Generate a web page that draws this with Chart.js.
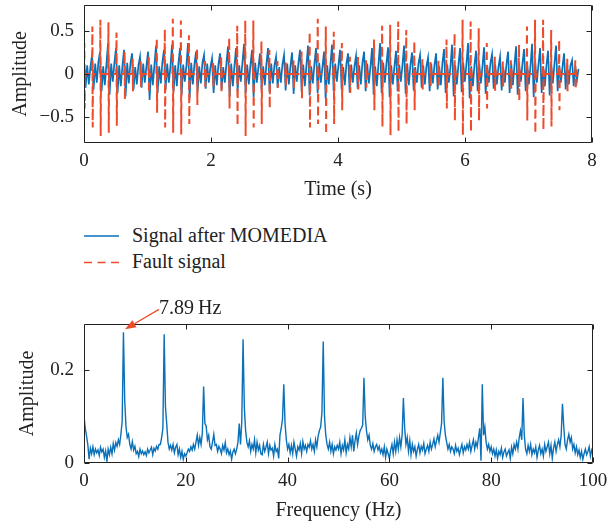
<!DOCTYPE html>
<html>
<head>
<meta charset="utf-8">
<script src="https://cdn.jsdelivr.net/npm/chart.js@4.4.1/dist/chart.umd.min.js"></script>
<style>
  body { margin: 0; background: #fff; }
  #page { position: relative; width: 608px; height: 529px; font-family: "Liberation Serif", "DejaVu Serif", serif; color: #222; }
  .box { position: absolute; left: 0; }
  .box canvas { display: block; }
  .key { position: absolute; left: 132px; font-size: 20px; line-height: 20px; white-space: nowrap; }
  .keyline { position: absolute; left: 83px; }
</style>
</head>
<body>
<div id="page">
  <div class="box" style="top:0"><canvas id="timeChart" width="608" height="205"></canvas></div>
  <svg class="keyline" style="top:230px" width="40" height="40">
    <line x1="1" y1="6" x2="36" y2="6" stroke="#0a70b8" stroke-width="1.4"/>
    <line x1="1" y1="32.5" x2="36" y2="32.5" stroke="#ee4b2b" stroke-width="1.4" stroke-dasharray="8 5.5"/>
  </svg>
  <div class="key" style="top:225px">Signal after MOMEDIA</div>
  <div class="key" style="top:251px">Fault signal</div>
  <div class="box" style="top:290px"><canvas id="specChart" width="608" height="239"></canvas></div>
</div>
<script>
// ticks
const timeXTicks = [0, 2, 4, 6, 8];
const timeYTicks = [-0.5, 0, 0.5];
const freqXTicks = [0, 20, 40, 60, 80, 100];
const freqYTicks = [0, 0.2];

// signal after MOMEDIA, one sample every blueStep seconds
const blueStep = 0.0252;
const blueSignal = [
  0.14,-0.16,0.10,-0.12,0.08,  0.22,-0.18,0.12,-0.10,0.14,  0.26,-0.20,0.09,-0.13,0.11,
  0.36,-0.24,0.12,-0.09,0.13,  0.30,-0.22,0.10,-0.14,0.09,  0.28,-0.26,0.13,-0.11,0.12,
  0.24,-0.18,0.08,-0.12,0.10,  0.20,-0.16,0.12,-0.10,0.09,  0.26,-0.30,0.11,-0.13,0.10,
  0.33,-0.22,0.09,-0.11,0.14,  0.28,-0.18,0.12,-0.10,0.08,  0.34,-0.20,0.10,-0.14,0.12,
  0.30,-0.24,0.11,-0.09,0.10,  0.36,-0.28,0.13,-0.12,0.11,  0.26,-0.20,0.09,-0.11,0.13,
  0.22,-0.17,0.12,-0.10,0.08,  0.18,-0.22,0.10,-0.13,0.11,  0.24,-0.18,0.08,-0.10,0.12,
  0.32,-0.26,0.12,-0.14,0.09,  0.30,-0.20,0.10,-0.09,0.13,  0.35,-0.22,0.11,-0.12,0.10,
  0.28,-0.27,0.13,-0.10,0.08,  0.24,-0.18,0.09,-0.13,0.12,  0.30,-0.21,0.12,-0.11,0.10,
  0.20,-0.16,0.08,-0.10,0.11,  0.22,-0.19,0.12,-0.12,0.09,  0.25,-0.23,0.10,-0.09,0.13,
  0.28,-0.20,0.11,-0.14,0.10,  0.33,-0.25,0.09,-0.11,0.12,  0.30,-0.22,0.13,-0.10,0.08,
  0.26,-0.29,0.10,-0.12,0.11,  0.34,-0.20,0.12,-0.09,0.10,  0.28,-0.18,0.08,-0.13,0.12,
  0.24,-0.21,0.11,-0.10,0.09,  0.21,-0.17,0.10,-0.12,0.13,  0.26,-0.20,0.12,-0.11,0.08,
  0.30,-0.24,0.09,-0.14,0.11,  0.36,-0.22,0.13,-0.10,0.12,  0.31,-0.27,0.10,-0.12,0.09,
  0.27,-0.20,0.11,-0.09,0.10,  0.33,-0.23,0.12,-0.13,0.11,  0.25,-0.19,0.08,-0.10,0.12,
  0.22,-0.16,0.10,-0.12,0.09,  0.19,-0.20,0.12,-0.11,0.10,  0.24,-0.18,0.09,-0.13,0.13,
  0.29,-0.22,0.11,-0.10,0.08,  0.34,-0.26,0.10,-0.12,0.11,  0.30,-0.21,0.13,-0.09,0.12,
  0.36,-0.28,0.09,-0.14,0.10,  0.27,-0.20,0.12,-0.11,0.09,  0.31,-0.23,0.10,-0.10,0.13,
  0.23,-0.17,0.11,-0.12,0.08,  0.20,-0.19,0.08,-0.10,0.11,  0.26,-0.22,0.12,-0.13,0.10,
  0.32,-0.24,0.10,-0.09,0.12,  0.29,-0.20,0.11,-0.12,0.09,  0.35,-0.27,0.13,-0.10,0.11,
  0.30,-0.22,0.09,-0.14,0.10,  0.27,-0.25,0.12,-0.11,0.12,  0.33,-0.20,0.10,-0.10,0.08,
  0.24,-0.18,0.11,-0.12,0.10,  0.16,-0.14,0.09,-0.08,0.06
];

// fault signal: impulse times (s) with their highest and lowest swing
const faultTimes = [
  0.005, 0.132, 0.258, 0.385, 0.512, 0.639, 0.766, 0.892, 1.019, 1.146,
  1.273, 1.399, 1.526, 1.653, 1.780, 1.906, 2.033, 2.160, 2.287, 2.413,
  2.540, 2.667, 2.794, 2.920, 3.047, 3.174, 3.301, 3.427, 3.554, 3.681,
  3.808, 3.934, 4.061, 4.188, 4.315, 4.441, 4.568, 4.695, 4.822, 4.948,
  5.075, 5.202, 5.329, 5.455, 5.582, 5.709, 5.836, 5.962, 6.089, 6.216,
  6.343, 6.469, 6.596, 6.723, 6.850, 6.976, 7.103, 7.230, 7.357, 7.483,
  7.610, 7.737
];
const faultHigh = [
  0.36, 0.55, 0.63, 0.60, 0.48, 0.26, 0.18, 0.15, 0.20, 0.42,
  0.52, 0.64, 0.62, 0.45, 0.30, 0.15, 0.15, 0.20, 0.42, 0.56,
  0.62, 0.62, 0.38, 0.28, 0.15, 0.14, 0.16, 0.26, 0.49, 0.64,
  0.55, 0.49, 0.36, 0.20, 0.20, 0.16, 0.40, 0.56, 0.57, 0.61,
  0.51, 0.38, 0.18, 0.15, 0.16, 0.40, 0.47, 0.63, 0.61, 0.53,
  0.36, 0.20, 0.15, 0.16, 0.34, 0.55, 0.63, 0.63, 0.51, 0.40,
  0.18, 0.16
];
const faultLow = [
  -0.40, -0.62, -0.72, -0.68, -0.60, -0.30, -0.20, -0.15, -0.22, -0.45,
  -0.62, -0.68, -0.70, -0.58, -0.36, -0.15, -0.16, -0.22, -0.40, -0.60,
  -0.72, -0.62, -0.58, -0.40, -0.16, -0.15, -0.18, -0.28, -0.62, -0.58,
  -0.70, -0.58, -0.42, -0.22, -0.18, -0.16, -0.42, -0.61, -0.71, -0.67,
  -0.58, -0.42, -0.18, -0.15, -0.16, -0.40, -0.54, -0.71, -0.67, -0.54,
  -0.40, -0.20, -0.15, -0.17, -0.31, -0.54, -0.69, -0.65, -0.61, -0.42,
  -0.20, -0.18
];
const faultTail = [0.05, -0.04];

// envelope spectrum, one bin every specStep Hz from 0 to 100
const specStep = 0.25;
const spectrum = [
  0.100,0.075,0.058,0.040,0.008,0.032,0.020,0.035,0.018,0.030,0.022,0.028,0.016,0.034,0.024,0.030,0.012,0.026,0.004,0.030,
  0.018,0.034,0.020,0.042,0.028,0.044,0.036,0.050,0.040,0.062,0.090,0.282,0.135,0.078,0.055,0.062,0.040,0.030,0.046,0.028,
  0.036,0.020,0.025,0.014,0.030,0.020,0.026,0.018,0.024,0.016,0.030,0.022,0.028,0.034,0.018,0.032,0.026,0.036,0.030,0.040,
  0.040,0.055,0.075,0.278,0.122,0.085,0.045,0.030,0.038,0.028,0.040,0.022,0.034,0.040,0.018,0.030,0.012,0.025,0.008,0.020,
  0.015,0.022,0.030,0.025,0.035,0.028,0.040,0.030,0.045,0.060,0.038,0.055,0.040,0.065,0.165,0.085,0.080,0.050,0.060,0.035,
  0.030,0.045,0.062,0.038,0.040,0.025,0.036,0.030,0.020,0.038,0.028,0.044,0.022,0.030,0.018,0.026,0.008,0.024,0.030,0.020,
  0.030,0.045,0.085,0.040,0.090,0.267,0.120,0.070,0.045,0.035,0.048,0.025,0.040,0.030,0.050,0.022,0.045,0.028,0.038,0.020,
  0.018,0.040,0.025,0.034,0.045,0.020,0.038,0.028,0.032,0.015,0.040,0.025,0.030,0.010,0.060,0.075,0.095,0.170,0.085,0.050,
  0.030,0.040,0.022,0.038,0.020,0.045,0.030,0.015,0.035,0.028,0.042,0.020,0.046,0.030,0.038,0.025,0.040,0.034,0.048,0.030,
  0.040,0.025,0.050,0.035,0.058,0.070,0.078,0.110,0.262,0.100,0.060,0.040,0.030,0.045,0.025,0.040,0.020,0.035,0.028,0.038,
  0.030,0.045,0.020,0.038,0.028,0.050,0.022,0.040,0.030,0.055,0.035,0.060,0.025,0.048,0.065,0.040,0.058,0.070,0.075,0.082,
  0.184,0.100,0.070,0.050,0.060,0.038,0.030,0.042,0.025,0.035,0.040,0.028,0.036,0.022,0.030,0.018,0.035,0.012,0.030,0.020,
  0.010,0.028,0.040,0.020,0.045,0.025,0.050,0.030,0.055,0.035,0.060,0.140,0.075,0.040,0.055,0.025,0.048,0.018,0.040,0.025,
  0.035,0.015,0.030,0.040,0.022,0.036,0.028,0.042,0.020,0.030,0.038,0.025,0.045,0.030,0.040,0.052,0.035,0.048,0.060,0.045,
  0.065,0.085,0.184,0.090,0.060,0.045,0.030,0.040,0.025,0.035,0.030,0.020,0.038,0.025,0.032,0.018,0.030,0.040,0.022,0.035,
  0.028,0.040,0.030,0.045,0.025,0.038,0.050,0.030,0.045,0.035,0.055,0.075,0.005,0.170,0.060,0.078,0.045,0.030,0.040,0.025,
  0.035,0.020,0.030,0.015,0.028,0.010,0.025,0.018,0.032,0.012,0.024,0.030,0.015,0.022,0.028,0.010,0.034,0.020,0.040,0.030,
  0.045,0.030,0.055,0.070,0.050,0.140,0.060,0.030,0.020,0.038,0.025,0.040,0.018,0.030,0.022,0.035,0.012,0.028,0.038,0.020,
  0.030,0.015,0.040,0.025,0.035,0.045,0.020,0.038,0.010,0.032,0.045,0.025,0.040,0.050,0.035,0.060,0.128,0.080,0.040,0.030,
  0.050,0.062,0.045,0.055,0.030,0.040,0.022,0.035,0.018,0.028,0.012,0.025,0.008,0.020,0.030,0.018,0.025,0.035,0.015,0.028,
  0.020
];
const peakLabel = '7.89\u2009Hz';

const BLUE = '#0a70b8';
const RED = '#ee4b2b';
const INK = '#222';
Chart.defaults.font.family = '"Liberation Serif", "DejaVu Serif", serif';

const bluePoints = blueSignal.map((v, i) => ({ x: i * blueStep, y: v }));
const faultPoints = [];
faultTimes.forEach((t, k) => {
    faultPoints.push(
        { x: t - 0.006, y: 0 },
        { x: t, y: faultHigh[k] },
        { x: t + 0.005, y: faultLow[k] },
        { x: t + 0.010, y: faultTail[0] },
        { x: t + 0.015, y: faultTail[1] },
        { x: t + 0.022, y: 0 }
    );
});
const specPoints = spectrum.map((v, i) => ({ x: i * specStep, y: v }));

function fmt(v) {
    return v < 0 ? '\u2212' + Math.abs(v) : String(v);
}

function axisX(min, max, ticks, title, titlePad, height) {
    return {
        type: 'linear', min, max,
        grid: { display: false, drawTicks: false },
        border: { display: false },
        ticks: { padding: 7, color: INK, font: { size: 19 }, maxRotation: 0, autoSkip: false, callback: fmt },
        title: { display: true, text: title, color: INK, font: { size: 20 }, padding: { top: 0, bottom: titlePad } },
        afterBuildTicks: s => { s.ticks = ticks.map(v => ({ value: v })); },
        afterFit: s => { s.height = height; s.paddingLeft = 0; s.paddingRight = 0; }
    };
}

function axisY(min, max, ticks, title, titlePad) {
    return {
        type: 'linear', min, max,
        grid: { display: false, drawTicks: false },
        border: { display: false },
        ticks: { padding: 10, color: INK, font: { size: 19 }, callback: fmt },
        title: { display: true, text: title, color: INK, font: { size: 20 }, padding: { top: titlePad, bottom: 0 } },
        afterBuildTicks: s => { s.ticks = ticks.map(v => ({ value: v })); },
        afterFit: s => { s.width = 84; s.paddingTop = 0; s.paddingBottom = 0; }
    };
}

// box around the plot with inward ticks on all four sides
const frameTicks = {
    id: 'frameTicks',
    afterDatasetsDraw(chart) {
        const { ctx, chartArea: a, scales: { x, y } } = chart;
        const L = Math.round(a.left) + 0.5, R = Math.round(a.right) - 0.5;
        const T = Math.round(a.top) + 0.5, B = Math.round(a.bottom) - 0.5;
        ctx.save();
        ctx.strokeStyle = INK;
        ctx.lineWidth = 1;
        ctx.beginPath();
        ctx.rect(L, T, R - L, B - T);
        x.ticks.forEach(t => {
            const px = Math.round(x.getPixelForValue(t.value)) + 0.5;
            ctx.moveTo(px, B); ctx.lineTo(px, B - 5);
            ctx.moveTo(px, T); ctx.lineTo(px, T + 5);
        });
        y.ticks.forEach(t => {
            const py = Math.round(y.getPixelForValue(t.value)) + 0.5;
            ctx.moveTo(L, py); ctx.lineTo(L + 5, py);
            ctx.moveTo(R, py); ctx.lineTo(R - 5, py);
        });
        ctx.stroke();
        ctx.restore();
    }
};

// red arrow and label pointing at the highest spectral line
const peakNote = {
    id: 'peakNote',
    afterDraw(chart) {
        const { ctx, scales: { x, y } } = chart;
        const k = spectrum.indexOf(Math.max(...spectrum));
        const tipX = x.getPixelForValue(k * specStep) + 1.5;
        const tipY = y.getPixelForValue(spectrum[k]) - 3;
        const tailX = tipX + 34, tailY = tipY - 20;
        const ang = Math.atan2(tipY - tailY, tipX - tailX);
        const hl = 11, hw = 4;
        const bx = tipX - hl * Math.cos(ang), by = tipY - hl * Math.sin(ang);
        ctx.save();
        ctx.strokeStyle = RED;
        ctx.fillStyle = RED;
        ctx.lineWidth = 1.3;
        ctx.beginPath();
        ctx.moveTo(tailX, tailY);
        ctx.lineTo(bx, by);
        ctx.stroke();
        ctx.beginPath();
        ctx.moveTo(tipX, tipY);
        ctx.lineTo(bx + hw * Math.sin(ang), by - hw * Math.cos(ang));
        ctx.lineTo(bx - hw * Math.sin(ang), by + hw * Math.cos(ang));
        ctx.closePath();
        ctx.fill();
        ctx.fillStyle = INK;
        ctx.font = '20px "Liberation Serif", "DejaVu Serif", serif';
        ctx.textBaseline = 'alphabetic';
        ctx.fillText(peakLabel, tailX, tailY + 5);
        ctx.restore();
    }
};

new Chart(document.getElementById('timeChart'), {
    type: 'line',
    data: {
        datasets: [
            { label: 'Fault signal', data: faultPoints, borderColor: RED, borderWidth: 2, borderDash: [8, 5], pointRadius: 0, tension: 0, order: 0 },
            { label: 'Signal after MOMEDIA', data: bluePoints, borderColor: BLUE, borderWidth: 1.7, pointRadius: 0, tension: 0, order: 1 }
        ]
    },
    options: {
        responsive: false,
        animation: false,
        events: [],
        layout: { padding: { top: 5, right: 16, bottom: 0, left: 0 } },
        plugins: { legend: { display: false }, tooltip: { enabled: false } },
        scales: {
            x: axisX(0, 8, timeXTicks, 'Time (s)', 3, 62),
            y: axisY(-0.8, 0.8, timeYTicks, 'Amplitude', 8.6)
        }
    },
    plugins: [frameTicks]
});

new Chart(document.getElementById('specChart'), {
    type: 'line',
    data: {
        datasets: [
            { label: 'Envelope spectrum', data: specPoints, borderColor: BLUE, borderWidth: 1.4, pointRadius: 0, tension: 0 }
        ]
    },
    options: {
        responsive: false,
        animation: false,
        events: [],
        layout: { padding: { top: 34, right: 15, bottom: 0, left: 0 } },
        plugins: { legend: { display: false }, tooltip: { enabled: false } },
        scales: {
            x: axisX(0, 100, freqXTicks, 'Frequency (Hz)', 6, 66),
            y: axisY(0, 0.3, freqYTicks, 'Amplitude', 15.6)
        }
    },
    plugins: [frameTicks, peakNote]
});
</script>
</body>
</html>
